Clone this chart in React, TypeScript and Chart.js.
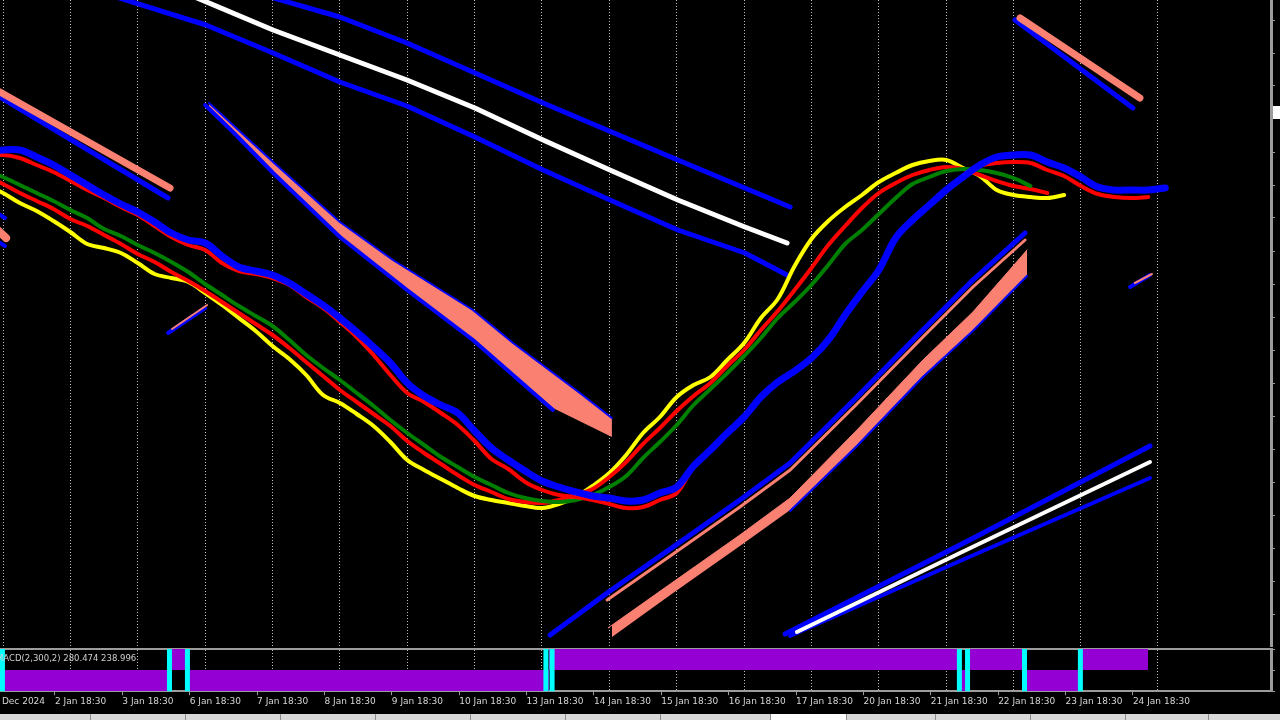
import React, { useEffect, useRef } from 'react';
import { Chart, registerables } from 'chart.js';

Chart.register(...registerables);

// ---------- time axis: trading hours since 2 Jan 2025 00:00 ----------
const X_MIN = -1.07;
const X_MAX = 451.7;
const dayGridHours = [0, 24, 48, 72, 96, 120, 144, 168, 192, 216, 240, 264, 288, 312, 336, 360, 384, 411.1];
const dateLabelHours = [-5.5, 18.5, 42.5, 66.5, 90.5, 114.5, 138.5, 162.5, 186.5, 210.5, 234.5, 258.5, 282.5, 306.5, 330.5, 354.5, 378.5, 402.5];
const dateLabels = ['31 Dec 2024', '2 Jan 18:30', '3 Jan 18:30', '6 Jan 18:30', '7 Jan 18:30', '8 Jan 18:30', '9 Jan 18:30', '10 Jan 18:30', '13 Jan 18:30', '14 Jan 18:30', '15 Jan 18:30', '16 Jan 18:30', '17 Jan 18:30', '20 Jan 18:30', '21 Jan 18:30', '22 Jan 18:30', '23 Jan 18:30', '24 Jan 18:30'];

// ---------- price axis ----------
const PRICE_MIN = 353;
const PRICE_MAX = 1000;
const priceTicks = [980, 947, 914, 881, 848, 815, 782, 749, 716, 683, 650, 617, 584, 551, 518, 485, 452, 419, 386];

// ---------- moving averages (sampled every 6 trading hours) ----------
const maStartHour = -6;
const maStepHours = 6;
const maYellow = [815, 807, 797, 789, 779, 768, 756, 752, 747, 737, 726, 722, 718, 707, 695, 682, 669, 654, 641, 625, 605, 597, 586, 574, 558, 540, 530, 521, 512, 504, 500, 497, 494, 492, 496, 503, 514, 527, 545, 567, 583, 603, 615, 623, 640, 657, 682, 701, 734, 761, 779, 793, 805, 818, 827, 835, 839, 840, 832, 824, 810, 805, 803, 802, 805];
const maRedFast = [824, 816, 807, 799, 791, 781, 774, 765, 756, 746, 738, 728, 719, 709, 698, 687, 676, 665, 652, 638, 624, 610, 598, 586, 574, 559, 547, 536, 525, 515, 508, 501, 498, 497, 500, 505, 511, 523, 538, 556, 572, 589, 604, 617, 634, 650, 670, 689, 710, 732, 755, 774, 792, 807, 817, 825, 830, 833, 831, 825, 819, 814, 811, 807];
const maGreen = [830, 823, 815, 807, 799, 790, 782, 771, 764, 755, 747, 738, 728, 716, 705, 694, 684, 674, 660, 645, 632, 620, 607, 594, 580, 567, 555, 543, 533, 523, 515, 507, 502, 499, 498, 500, 505, 513, 524, 542, 558, 575, 595, 611, 627, 644, 662, 682, 698, 715, 735, 756, 770, 786, 802, 816, 823, 829, 831, 830, 827, 822, 814];
const maRedSlow = [843, 845, 842, 835, 828, 819, 810, 802, 793, 785, 774, 763, 755, 750, 737, 729, 726, 722, 715, 703, 692, 678, 663, 645, 625, 607, 598, 587, 575, 559, 541, 531, 518, 510, 505, 503, 500, 496, 492, 493, 500, 507, 533, 549, 566, 582, 602, 617, 628, 641, 659, 684, 707, 729, 761, 779, 794, 809, 822, 834, 837, 838, 837, 830, 824, 814, 806, 803, 802, 803];
const maBlue = [848, 850, 850, 843, 835, 825, 815, 805, 796, 788, 778, 767, 760, 757, 744, 733, 729, 725, 717, 706, 695, 682, 668, 653, 637, 617, 604, 595, 587, 569, 552, 540, 529, 519, 513, 508, 504, 502, 499, 500, 507, 513, 534, 550, 567, 583, 603, 618, 629, 642, 660, 685, 708, 730, 762, 780, 795, 810, 823, 835, 843, 845, 845, 838, 832, 823, 813, 810, 810, 810, 812];

// ---------- trend / regression channel objects ----------
const edgeSalmonT = [-5, 1.1];
const edgeSalmonV = [778, 762];
const edgeBlueTopT = [-5, 0.7];
const edgeBlueTopV = [792, 782];
const edgeBlueLowT = [-5, 0.7];
const edgeBlueLowV = [764, 754];

const chA_BlueT = [-1.1, 58.8];
const chA_BlueV = [903, 802];
const chA_SalmonT = [-1.1, 59.5];
const chA_SalmonV = [908, 812];

const chC_BlueT = [58.8, 72.0];
const chC_BlueV = [667, 692];
const chC_SalmonT = [60.2, 72.7];
const chC_SalmonV = [671, 695];

const tlLowerBlueT = [34.6, 72.3, 96.2, 120.0, 143.9, 168.1, 192.4, 216.2, 240.4, 264.3, 279.3];
const tlLowerBlueV = [1008, 975, 947, 918, 894, 863, 830, 800, 770, 747, 725];
const tlUpperBlueT = [91.5, 120.0, 143.9, 192.4, 240.4, 280.4];
const tlUpperBlueV = [1006, 983, 957, 897, 840, 793];
const tlWhiteT = [66.6, 96.2, 120.0, 143.9, 168.1, 192.4, 216.2, 240.4, 264.3, 279.3];
const tlWhiteV = [1005, 970, 945, 920, 892, 860, 830, 800, 773, 757];

const chB_UpperT = [73.4, 96.2, 120.0, 138.9, 167.4, 181.7, 205.5, 216.9];
const chB_UpperV = [897, 838, 778, 740, 690, 657, 607, 582];
const chB_LowEdgeT = [72.0, 96.2, 120.0, 143.9, 167.4, 195.9, 216.9];
const chB_LowEdgeV = [894, 826, 762, 710, 659, 592, 563];
const chB_BlueT = [72.0, 82.3, 96.2, 120.0, 143.9, 167.4, 195.9];
const chB_BlueV = [895, 867, 827, 763, 710, 660, 590];

const chF_BlueT = [360.5, 402.5];
const chF_BlueV = [980, 892];
const chF_SalmonT = [362.3, 405.0];
const chF_SalmonV = [982, 902];

const chG_BlueT = [401.5, 408.6];
const chG_BlueV = [713, 725];
const chG_SalmonT = [403.2, 409.3];
const chG_SalmonV = [717, 726];

const chD_UpperT = [194.9, 215.2, 238.7, 262.5, 280.4, 304.2, 327.7, 345.5, 364.1];
const chD_UpperV = [365, 407, 453, 500, 537, 603, 670, 720, 767];
const chD_ThinT = [215.2, 238.7, 262.5, 280.4, 304.2, 327.7, 345.5, 364.1];
const chD_ThinV = [400, 446, 493, 530, 596, 663, 713, 760];
const chD_BandTopT = [215.5, 238.7, 262.5, 280.4, 304.2, 327.7, 345.5, 364.8];
const chD_BandTopV = [372, 418, 465, 502, 570, 640, 688, 750];
const chD_BandLowT = [216.9, 238.7, 262.5, 280.4, 304.2, 327.7, 345.5, 364.8];
const chD_BandLowV = [363, 407, 454, 490, 555, 624, 670, 725];
const chD_LowBlueT = [280.4, 304.2, 327.7, 345.5, 364.8];
const chD_LowBlueV = [489, 554, 623, 669, 724];

const chE_UpperT = [278.6, 340.9, 408.6];
const chE_UpperV = [366, 455, 554];
const chE_WhiteT = [282.8, 340.9, 408.6];
const chE_WhiteV = [368, 447, 538];
const chE_LowerT = [280.4, 340.9, 408.6];
const chE_LowerV = [364, 439, 522];

// ---------- MACD(2,300,2) sub-window ----------
const macdHistHours = [-3, 59.5, 65.9, 194.5, 340.9, 343.4, 364.1, 383.7, 407.9];
const macdHistSign = [-1, 1, -1, 1, -1, 1, -1, 1, 0];
const macdSignalHours = [-10, -0.2, 59.3, 65.7, 193.4, 195.6, 340.7, 343.6, 363.9, 383.8];
const macdSignalLevel = [3, -3, 3, -3, 3, -3, 3, -3, 3, -3];
const macdScaleTicks = [-1, 0, 1];

const BLUE = '#0000ff';
const SALMON = '#fa8072';
const WHITE = '#ffffff';
const YELLOW = '#ffff00';
const RED = '#ff0000';
const GREEN = '#008000';
const CYAN = '#00ffff';
const PURPLE = '#9400d3';
const GRID = '#bdbdbd';
const FRAME = '#9c9c9c';
const NONE = 'rgba(0,0,0,0)';

type P = { x: number; y: number };
const zip = (t: number[], v: number[]): P[] => t.map((x, i) => ({ x, y: v[i] }));
const maSeries = (v: number[]): P[] => v.map((y, i) => ({ x: maStartHour + i * maStepHours, y }));

function line(data: P[], color: string, width: number, extra: any = {}) {
  return {
    data,
    borderColor: color,
    borderWidth: width,
    pointRadius: 0,
    pointHoverRadius: 0,
    fill: false,
    tension: 0,
    borderCapStyle: 'round',
    borderJoinStyle: 'round',
    ...extra,
  };
}

const setTicks = (vals: number[]) => (s: any) => {
  s.ticks = vals.map((v) => ({ value: v }));
};
const noPad = (s: any) => {
  s.paddingLeft = 0;
  s.paddingRight = 0;
};

export default function App() {
  const mainRef = useRef<HTMLCanvasElement>(null);
  const macdRef = useRef<HTMLCanvasElement>(null);

  useEffect(() => {
    Chart.defaults.font.family = "'DejaVu Sans', sans-serif";

    const ma = { tension: 0.35, borderCapStyle: 'round' };
    const mainDatasets: any[] = [
      line(zip(edgeSalmonT, edgeSalmonV), SALMON, 8),
      line(zip(edgeBlueTopT, edgeBlueTopV), BLUE, 4),
      line(zip(edgeBlueLowT, edgeBlueLowV), BLUE, 4),
      line(zip(chA_BlueT, chA_BlueV), BLUE, 5),
      line(zip(chA_SalmonT, chA_SalmonV), SALMON, 7),
      line(zip(chC_BlueT, chC_BlueV), BLUE, 4),
      line(zip(chC_SalmonT, chC_SalmonV), SALMON, 2),
      line(zip(tlLowerBlueT, tlLowerBlueV), BLUE, 5),
      line(zip(tlUpperBlueT, tlUpperBlueV), BLUE, 5),
      line(zip(tlWhiteT, tlWhiteV), WHITE, 5),
      line(zip(chB_UpperT, chB_UpperV), BLUE, 2, { fill: '+1', backgroundColor: SALMON }),
      line(zip(chB_LowEdgeT, chB_LowEdgeV), NONE, 0),
      line(zip(chB_BlueT, chB_BlueV), BLUE, 4),
      line(zip(chF_BlueT, chF_BlueV), BLUE, 5),
      line(zip(chF_SalmonT, chF_SalmonV), SALMON, 7),
      line(zip(chG_BlueT, chG_BlueV), BLUE, 4),
      line(zip(chG_SalmonT, chG_SalmonV), SALMON, 2),
      line(zip(chD_UpperT, chD_UpperV), BLUE, 5),
      line(zip(chD_ThinT, chD_ThinV), SALMON, 3),
      line(zip(chD_BandTopT, chD_BandTopV), SALMON, 1, { fill: '+1', backgroundColor: SALMON }),
      line(zip(chD_BandLowT, chD_BandLowV), NONE, 0),
      line(zip(chD_LowBlueT, chD_LowBlueV), BLUE, 2),
      line(zip(chE_UpperT, chE_UpperV), BLUE, 5),
      line(zip(chE_LowerT, chE_LowerV), BLUE, 4),
      line(zip(chE_WhiteT, chE_WhiteV), WHITE, 4),
      line(maSeries(maYellow), YELLOW, 4, ma),
      line(maSeries(maRedFast), RED, 4, ma),
      line(maSeries(maGreen), GREEN, 4, ma),
      line(maSeries(maRedSlow), RED, 4, ma),
      line(maSeries(maBlue), BLUE, 7, ma),
    ];
    mainDatasets.forEach((d, i) => {
      d.order = mainDatasets.length - i;
    });

    const common: any = {
      animation: false,
      responsive: false,
      events: [],
      plugins: { legend: { display: false }, tooltip: { enabled: false }, title: { display: false } },
    };

    const main = new Chart(mainRef.current as HTMLCanvasElement, {
      type: 'line',
      data: { datasets: mainDatasets },
      options: {
        ...common,
        layout: { padding: 0, autoPadding: false },
        scales: {
          x: {
            type: 'linear',
            position: 'bottom',
            min: X_MIN,
            max: X_MAX,
            afterBuildTicks: setTicks(dayGridHours),
            afterFit: noPad,
            ticks: { display: false },
            grid: { color: GRID, lineWidth: 1, drawTicks: false },
            border: { display: false, dash: [1, 2] },
          },
          y: {
            type: 'linear',
            position: 'right',
            min: PRICE_MIN,
            max: PRICE_MAX,
            afterBuildTicks: setTicks(priceTicks),
            afterFit: (s: any) => {
              s.width = 9;
            },
            ticks: { display: false },
            grid: { drawOnChartArea: false, drawTicks: true, tickLength: 4, color: FRAME },
            border: { display: true, color: FRAME, width: 3 },
          },
        },
      } as any,
    });

    const macd = new Chart(macdRef.current as HTMLCanvasElement, {
      type: 'line',
      data: {
        datasets: [
          {
            data: zip(macdHistHours, macdHistSign),
            stepped: true,
            fill: 'origin',
            backgroundColor: PURPLE,
            borderColor: NONE,
            borderWidth: 0,
            pointRadius: 0,
            order: 2,
          },
          {
            data: zip(macdSignalHours, macdSignalLevel),
            stepped: true,
            fill: false,
            borderColor: CYAN,
            borderWidth: 5,
            pointRadius: 0,
            clip: 0,
            order: 1,
          },
        ] as any,
      },
      options: {
        ...common,
        layout: { padding: { top: 2, left: 0, right: 0, bottom: 0 }, autoPadding: false },
        scales: {
          x: {
            type: 'linear',
            position: 'top',
            min: X_MIN,
            max: X_MAX,
            afterBuildTicks: setTicks(dayGridHours),
            afterFit: noPad,
            ticks: { display: false },
            grid: { color: GRID, lineWidth: 1, drawTicks: false },
            border: { display: true, color: FRAME, width: 2, dash: [1, 2] },
          },
          xl: {
            type: 'linear',
            position: 'bottom',
            min: X_MIN,
            max: X_MAX,
            afterBuildTicks: setTicks(dateLabelHours),
            afterFit: noPad,
            ticks: {
              autoSkip: false,
              maxRotation: 0,
              minRotation: 0,
              align: 'start',
              padding: 1,
              color: '#d6d6d6',
              font: { size: 9 },
              callback: (_v: any, i: number) => dateLabels[i],
            },
            grid: { drawOnChartArea: false, drawTicks: true, tickLength: 4, color: FRAME },
            border: { display: true, color: FRAME, width: 2 },
          },
          y: {
            type: 'linear',
            position: 'right',
            min: -1,
            max: 1,
            afterBuildTicks: setTicks(macdScaleTicks),
            afterFit: (s: any) => {
              s.width = 9;
            },
            ticks: { display: false },
            grid: { drawOnChartArea: false, drawTicks: true, tickLength: 4, color: FRAME },
            border: { display: true, color: FRAME, width: 3 },
          },
        },
      } as any,
    });

    return () => {
      main.destroy();
      macd.destroy();
    };
  }, []);

  const tabSeps = [90, 185, 280, 375, 470, 565, 660, 770, 846, 935, 1030, 1125, 1208];

  return (
    <div style={{ position: 'fixed', left: 0, top: 0, width: 1280, height: 720, background: '#000', overflow: 'hidden' }}>
      <canvas ref={mainRef} width={1280} height={647} style={{ position: 'absolute', left: 0, top: 0, width: 1280, height: 647 }} />
      <canvas ref={macdRef} width={1280} height={61} style={{ position: 'absolute', left: 0, top: 647, width: 1280, height: 61 }} />
      <div
        style={{
          position: 'absolute',
          left: -4,
          top: 653,
          fontFamily: "'DejaVu Sans', sans-serif",
          fontSize: 8.5,
          lineHeight: '10px',
          color: '#d0d0d0',
          whiteSpace: 'nowrap',
        }}
      >
        MACD(2,300,2) 280.474 238.996
      </div>
      <div style={{ position: 'absolute', left: 1273, top: 106, width: 7, height: 13, background: '#ffffff' }} />
      <div style={{ position: 'absolute', left: 0, top: 714, width: 1280, height: 6, background: '#d8d8d8' }}>
        <div style={{ position: 'absolute', left: 770, top: 0, width: 76, height: 6, background: '#ffffff' }} />
        {tabSeps.map((x) => (
          <div key={x} style={{ position: 'absolute', left: x, top: 0, width: 1, height: 6, background: '#8c8c8c' }} />
        ))}
      </div>
    </div>
  );
}
